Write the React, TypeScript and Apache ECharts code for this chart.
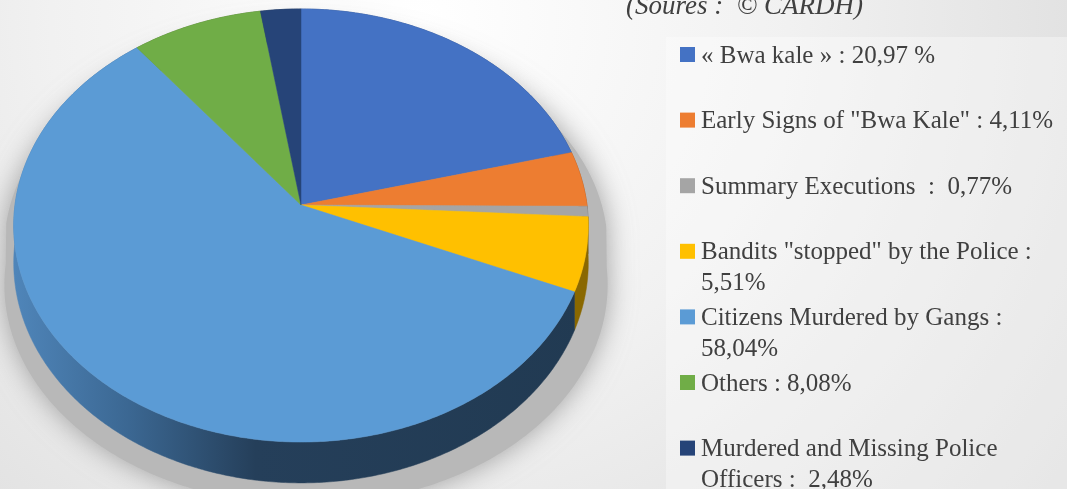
import React, { useEffect, useRef } from "react";
import * as echarts from "echarts";

// ---- data ----
const categories = [
  "« Bwa kale »",
  'Early Signs of "Bwa Kale"',
  "Summary Executions",
  'Bandits "stopped" by the Police',
  "Citizens Murdered by Gangs",
  "Others",
  "Murdered and Missing Police Officers",
];
const values = [20.97, 4.11, 0.77, 5.51, 58.04, 8.08, 2.48];
const legendLines = [
  ["« Bwa kale » : 20,97 %"],
  ['Early Signs of "Bwa Kale" : 4,11%'],
  ["Summary Executions  :  0,77%"],
  ['Bandits "stopped" by the Police :', "5,51%"],
  ["Citizens Murdered by Gangs :", "58,04%"],
  ["Others : 8,08%"],
  ["Murdered and Missing Police", "Officers :  2,48%"],
];
const sourceText = "(Soures :  © CARDH)";

const colors = ["#4472C4", "#ED7D31", "#A5A5A5", "#FFC000", "#5B9BD5", "#70AD47", "#264478"];
const wallColors = ["#2b4a80", "#9a4f1c", "#6b6b6b", "#8a6800", null, "#486f2d", "#172a4b"];

const SERIF = '"Liberation Serif", "DejaVu Serif", "Times New Roman", serif';

// ---- projection (perspective tilted disc) ----
const CX = 301;
const CY = 205;
const RX = 286;
const RY = 214.6;
const K = 0.0947;
const DEPTH = 37;

function proj(theta: number, down = 0): [number, number] {
  const u = Math.sin(theta);
  const v = -Math.cos(theta);
  const s = 1 / (1 - K * v);
  return [CX + RX * u * s, CY + RY * v * s + down * s];
}

const total = values.reduce((a, b) => a + b, 0);
const starts: number[] = [];
{
  let acc = 0;
  for (const v of values) {
    starts.push((acc / total) * Math.PI * 2);
    acc += v;
  }
}

function arcPoints(a0: number, a1: number, down = 0): [number, number][] {
  const steps = Math.max(2, Math.ceil((a1 - a0) / 0.01));
  const pts: [number, number][] = [];
  for (let j = 0; j <= steps; j++) {
    pts.push(proj(a0 + ((a1 - a0) * j) / steps, down));
  }
  return pts;
}

function silhouette(): [number, number][] {
  const pts: [number, number][] = [];
  const n = 360;
  for (let j = 0; j < n; j++) {
    const t = (j / n) * Math.PI * 2;
    const v = -Math.cos(t);
    pts.push(proj(t, v >= 0 ? DEPTH : 0));
  }
  return pts;
}

export default function App() {
  const ref = useRef<HTMLDivElement>(null);

  useEffect(() => {
    if (!ref.current) return;
    const chart = echarts.init(ref.current, null, { renderer: "svg" });

    const citizensWall = new echarts.graphic.LinearGradient(
      15,
      0,
      588,
      0,
      [
        { offset: 0, color: "#4f85b9" },
        { offset: 0.2, color: "#3b6792" },
        { offset: 0.42, color: "#253f5a" },
        { offset: 1, color: "#213a52" },
      ],
      true
    );

    const data = values.map((v, i) => ({
      value: v,
      name: categories[i],
      itemStyle: { color: colors[i] },
    }));

    const shadowPts = silhouette().map(([x, y]) => [
      CX + (x - CX) * 1.05 + 5,
      CY + (y - CY) * 1.0 + 22,
    ]);

    const legendEls: any[] = [];
    legendLines.forEach((lines, i) => {
      const cy = 54 + 65.6 * i;
      legendEls.push({
        type: "rect",
        shape: { x: 680, y: cy - 7, width: 15, height: 15 },
        style: { fill: colors[i] },
      });
      lines.forEach((t, k) => {
        legendEls.push({
          type: "text",
          x: 701,
          y: cy + k * 31,
          style: {
            text: t,
            fontFamily: SERIF,
            fontSize: 25,
            fill: "#404040",
            align: "left",
            verticalAlign: "middle",
          },
        });
      });
    });

    const option: any = {
      animation: false,
      graphic: {
        elements: [
          {
            type: "rect",
            shape: { x: 0, y: 0, width: 1067, height: 489 },
            style: {
              fill: new echarts.graphic.RadialGradient(
                420,
                20,
                820,
                [
                  { offset: 0, color: "#ffffff" },
                  { offset: 0.45, color: "#f1f1f1" },
                  { offset: 1, color: "#d9d9d9" },
                ],
                true
              ),
            },
          },
          {
            type: "rect",
            shape: { x: 666, y: 37, width: 401, height: 452 },
            style: { fill: "rgba(255,255,255,0.35)" },
          },
          {
            type: "polygon",
            shape: { points: shadowPts },
            style: {
              fill: "#b8b8b8",
              shadowBlur: 28,
              shadowColor: "rgba(150,150,150,0.9)",
            },
          },
          {
            type: "text",
            x: 626,
            y: 5,
            style: {
              text: sourceText,
              fontFamily: SERIF,
              fontStyle: "italic",
              fontSize: 27,
              fill: "#404040",
              align: "left",
              verticalAlign: "middle",
            },
          },
          ...legendEls,
        ],
      },
      series: [
        {
          type: "custom",
          name: "walls",
          coordinateSystem: "none",
          z: 2,
          silent: true,
          data,
          renderItem: (params: any, api: any) => {
            const i = params.dataIndex;
            const a0 = starts[i];
            const a1 = a0 + (api.value(0) / total) * Math.PI * 2;
            const top = arcPoints(a0, a1, 0);
            const bottom = arcPoints(a0, a1, DEPTH).reverse();
            return {
              type: "polygon",
              shape: { points: top.concat(bottom) },
              style: {
                fill: i === 4 ? citizensWall : wallColors[i],
                stroke: i === 4 ? citizensWall : wallColors[i],
                lineWidth: 0.5,
              },
            };
          },
        },
        {
          type: "custom",
          name: "pie",
          coordinateSystem: "none",
          z: 3,
          data,
          renderItem: (params: any, api: any) => {
            const i = params.dataIndex;
            const a0 = starts[i];
            const a1 = a0 + (api.value(0) / total) * Math.PI * 2;
            const pts: [number, number][] = [[CX, CY], ...arcPoints(a0, a1, 0)];
            const c = api.visual("color");
            return {
              type: "polygon",
              shape: { points: pts },
              style: { fill: c, stroke: c, lineWidth: 0.5 },
            };
          },
        },
      ],
    };

    chart.setOption(option);
    return () => chart.dispose();
  }, []);

  return (
    <div
      ref={ref}
      style={{ position: "fixed", left: 0, top: 0, width: 1067, height: 489 }}
    />
  );
}
